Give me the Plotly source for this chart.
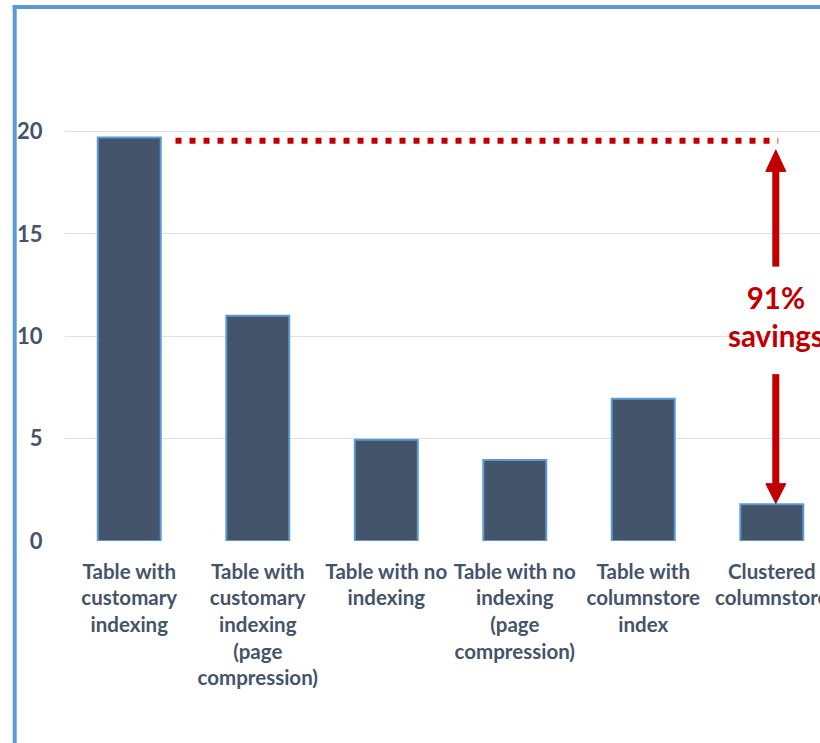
import plotly.graph_objects as go

categories = [
    "Table with<br>customary<br>indexing",
    "Table with<br>customary<br>indexing<br>(page<br>compression)",
    "Table with no<br>indexing",
    "Table with no<br>indexing<br>(page<br>compression)",
    "Table with<br>columnstore<br>index",
    "Clustered<br>columnstore",
]
values = [19.7, 11.0, 4.95, 3.95, 6.95, 1.8]
y_ticks = [0, 5, 10, 15, 20]
savings_label = "91%<br>savings"

W, H = 820, 743
ML, MR, MT, MB = 65, 0, 111, 202
PW, PH = W - ML - MR, H - MT - MB

BAR = "#44546A"
EDGE = "#5B9BD5"
RED = "#C00000"
TXT = "#44546A"

fig = go.Figure()
fig.add_trace(go.Bar(
    x=categories, y=values, width=0.49,
    marker=dict(color=BAR, line=dict(color=EDGE, width=2)),
    hoverinfo="skip",
))

def px_x(p):
    return (p - ML) / PW

def px_y(p):
    return (H - MB - p) / PH

shapes = []
# chart frame (left and top edges)
shapes.append(dict(type="line", xref="paper", yref="paper",
                   x0=px_x(14.7), x1=px_x(14.7), y0=px_y(5), y1=px_y(760),
                   line=dict(color=EDGE, width=4)))
shapes.append(dict(type="line", xref="paper", yref="paper",
                   x0=px_x(12.7), x1=px_x(840), y0=px_y(7), y1=px_y(7),
                   line=dict(color=EDGE, width=4)))

# dotted reference line
ref_y = 19.55
ax = 5.031
shapes.append(dict(type="line", xref="x", yref="y",
                   x0=0.36, x1=5.05, y0=ref_y, y1=ref_y,
                   line=dict(color=RED, width=6, dash="6px,8px")))

# upper arrow (pointing up)
hw = 0.078
up_tip, up_base, up_tail = 19.1, 18.05, 13.4
shapes.append(dict(type="line", xref="x", yref="y",
                   x0=ax, x1=ax, y0=up_tail, y1=up_base + 0.1,
                   line=dict(color=RED, width=7)))
shapes.append(dict(type="path", xref="x", yref="y",
                   path=f"M {ax - hw},{up_base} L {ax + hw},{up_base} L {ax},{up_tip} Z",
                   fillcolor=RED, line=dict(color=RED, width=1)))

# lower arrow (pointing down)
dn_tail, dn_base, dn_tip = 8.15, 2.8, values[-1] + 0.03
shapes.append(dict(type="line", xref="x", yref="y",
                   x0=ax, x1=ax, y0=dn_tail, y1=dn_base - 0.1,
                   line=dict(color=RED, width=7)))
shapes.append(dict(type="path", xref="x", yref="y",
                   path=f"M {ax - hw},{dn_base} L {ax + hw},{dn_base} L {ax},{dn_tip} Z",
                   fillcolor=RED, line=dict(color=RED, width=1)))

fig.update_layout(
    template="none",
    width=W, height=H,
    margin=dict(l=ML, r=MR, t=MT, b=MB, pad=0, autoexpand=False),
    paper_bgcolor="white", plot_bgcolor="white",
    showlegend=False,
    shapes=shapes,
    annotations=[dict(x=ax, y=10.96, xref="x", yref="y", text=savings_label,
                      showarrow=False, xanchor="center", yanchor="middle",
                      font=dict(family="Lato", size=29.5, color=RED, weight="bold"))],
    font=dict(family="Lato", color=TXT),
)
fig.update_xaxes(
    type="category", range=[-0.5, 5.375], automargin=False,
    showgrid=False, showline=False, zeroline=False,
    ticks="outside", ticklen=12, tickcolor="rgba(0,0,0,0)",
    tickangle=0,
    tickfont=dict(family="Lato", size=20.5, color=TXT, weight="bold"),
)
fig.update_yaxes(
    range=[0, 21], tickvals=y_ticks, automargin=False,
    showgrid=True, gridcolor="#DDE2E8", gridwidth=1,
    zeroline=False, showline=False,
    ticks="outside", ticklen=17, tickcolor="rgba(0,0,0,0)",
    tickfont=dict(family="Lato", size=22, color=TXT, weight="bold"),
)

fig.write_html("out.html", config={"displayModeBar": False},
               post_script="document.body.style.margin='0';")
